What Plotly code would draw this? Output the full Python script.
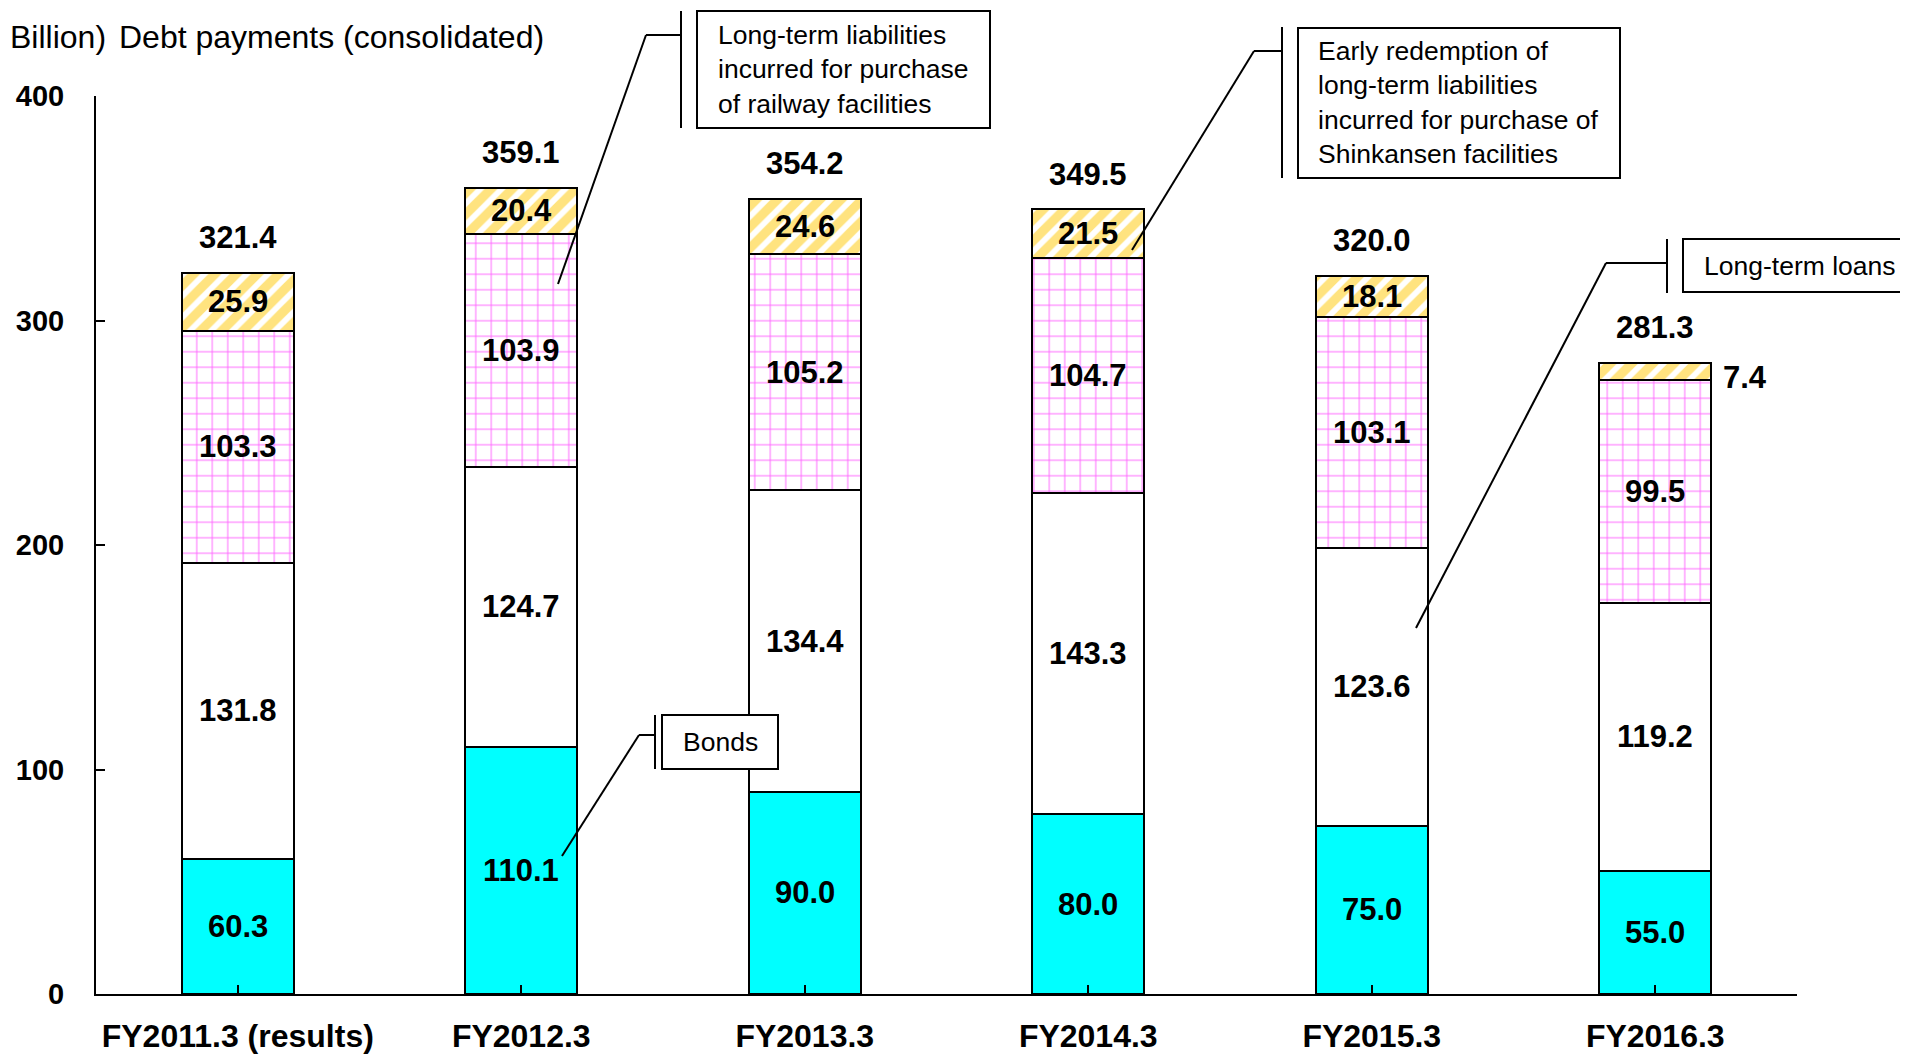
import plotly.graph_objects as go

# ---------------- data ----------------
categories = ["FY2011.3 (results)", "FY2012.3", "FY2013.3", "FY2014.3", "FY2015.3", "FY2016.3"]
bonds = [60.3, 110.1, 90.0, 80.0, 75.0, 55.0]
long_term_loans = [131.8, 124.7, 134.4, 143.3, 123.6, 119.2]
railway_liabilities = [103.3, 103.9, 105.2, 104.7, 103.1, 99.5]
early_redemption = [25.9, 20.4, 24.6, 21.5, 18.1, 7.4]
totals = [321.4, 359.1, 354.2, 349.5, 320.0, 281.3]
y_ticks = [0, 100, 200, 300, 400]

# ---------------- layout constants (page pixels) ----------------
PAGE_OFF = 8                      # default body margin of the html page
W, H = 1908 - PAGE_OFF, 1054 - PAGE_OFF
L, R, T, B = 96, 1797, 96, 994    # plot area in page pixels
FONT = "Liberation Sans, Arial, sans-serif"
BAR_W = 0.395


def px(x):
    return (x - L) / (R - L)


def py(y):
    return (B - y) / (B - T)


fig = go.Figure()

series = [
    ("Bonds", bonds, dict(color="#00FFFF")),
    ("Long-term loans", long_term_loans, dict(color="white")),
    ("Long-term liabilities", railway_liabilities,
     dict(color="white", pattern=dict(shape="+", fgcolor="#FF00FF", bgcolor="white",
                                      size=15.5, solidity=0.12, fgopacity=0.6))),
    ("Early redemption", early_redemption,
     dict(color="white", pattern=dict(shape="/", fgcolor="#FFC800", bgcolor="white",
                                      size=15, solidity=0.62))),
]

for name, vals, marker in series:
    marker = dict(marker)
    marker["line"] = dict(color="black", width=2)
    fig.add_trace(go.Bar(x=list(range(len(categories))), y=vals, name=name,
                         width=BAR_W, marker=marker, showlegend=False,
                         hoverinfo="x+y"))

LABEL_FONT = dict(family=FONT, size=31, color="black", weight="bold")
annotations = []
# segment labels
for i in range(len(categories)):
    base = 0.0
    for _, vals, _m in series:
        v = vals[i]
        mid = base + v / 2
        if v < 10:
            annotations.append(dict(x=i, y=mid, xref="x", yref="y", text=f"{v:.1f}",
                                    showarrow=False, xanchor="left", xshift=66, yshift=-6,
                                    font=LABEL_FONT))
        else:
            annotations.append(dict(x=i, y=mid, xref="x", yref="y", text=f"{v:.1f}",
                                    showarrow=False, font=LABEL_FONT))
        base += v
    annotations.append(dict(x=i, y=totals[i], xref="x", yref="y", text=f"{totals[i]:.1f}",
                            showarrow=False, yanchor="middle", yshift=35,
                            font=LABEL_FONT))

# title texts
annotations.append(dict(x=px(8), y=py(37), xref="paper", yref="paper", text="Billion)",
                        showarrow=False, xanchor="left", yanchor="middle",
                        font=dict(family=FONT, size=32, color="black")))
annotations.append(dict(x=px(117), y=py(37), xref="paper", yref="paper",
                        text="Debt payments (consolidated)",
                        showarrow=False, xanchor="left", yanchor="middle",
                        font=dict(family=FONT, size=32, color="black")))

# callouts: box (x0,y0,x1,y1), text left x, vertical bar line, leader points
callouts = [
    dict(text="Long-term liabilities<br>incurred for purchase<br>of railway facilities",
         box=(697, 11, 990, 128), tx=716, vline=(681, 11, 128),
         leader=[(558, 284), (646, 35), (681, 35)]),
    dict(text="Early redemption of<br>long-term liabilities<br>incurred for purchase of<br>Shinkansen facilities",
         box=(1298, 28, 1620, 178), tx=1316, vline=(1282, 27, 178),
         leader=[(1132, 250), (1254, 51), (1282, 51)]),
    dict(text="Long-term loans",
         box=(1683, 239, 1918, 292), tx=1702, vline=(1667, 239, 293),
         leader=[(1416, 628), (1606, 263), (1667, 263)]),
    dict(text="Bonds",
         box=(662, 715, 778, 769), tx=681, vline=(655, 715, 769),
         leader=[(562, 856), (639, 735), (655, 735)]),
]

shapes = []
for c in callouts:
    x0, y0, x1, y1 = c["box"]
    shapes.append(dict(type="rect", xref="paper", yref="paper",
                       x0=px(x0), x1=px(x1), y0=py(y0), y1=py(y1),
                       line=dict(color="black", width=2), fillcolor="white"))
    vx, vy0, vy1 = c["vline"]
    shapes.append(dict(type="line", xref="paper", yref="paper",
                       x0=px(vx), x1=px(vx), y0=py(vy0), y1=py(vy1),
                       line=dict(color="black", width=2)))
    pts = c["leader"]
    for (ax, ay), (bx, by) in zip(pts[:-1], pts[1:]):
        shapes.append(dict(type="line", xref="paper", yref="paper",
                           x0=px(ax), x1=px(bx), y0=py(ay), y1=py(by),
                           line=dict(color="black", width=2)))
    annotations.append(dict(x=px(c["tx"]), y=py((y0 + y1) / 2), xref="paper", yref="paper",
                            text=c["text"], showarrow=False, xanchor="left", yanchor="middle",
                            align="left",
                            font=dict(family=FONT, size=26.5, color="black")))

fig.update_layout(
    width=W, height=H,
    margin=dict(l=L - PAGE_OFF, r=W - (R - PAGE_OFF), t=T - PAGE_OFF, b=H - (B - PAGE_OFF),
                pad=0, autoexpand=False),
    paper_bgcolor="white", plot_bgcolor="white",
    barmode="stack",
    annotations=annotations,
    shapes=shapes,
    font=dict(family=FONT, color="black"),
    xaxis=dict(range=[-0.5, 5.5], tickmode="array", tickvals=list(range(len(categories))),
               ticktext=categories, showline=True, linecolor="black", linewidth=2,
               ticks="inside", tickson="boundaries", ticklen=9, tickwidth=2, tickcolor="black",
               showgrid=False, zeroline=False, ticklabelstandoff=13, automargin=False,
               tickfont=dict(family=FONT, size=32, color="black", weight="bold")),
    yaxis=dict(range=[0, 400], tickvals=y_ticks, showline=True, linecolor="black", linewidth=2,
               ticks="inside", ticklen=9, tickwidth=2, tickcolor="black",
               showgrid=False, zeroline=False, ticklabelstandoff=24, automargin=False,
               tickfont=dict(family=FONT, size=29, color="black", weight="bold")),
)

fig.write_html("out.html")
